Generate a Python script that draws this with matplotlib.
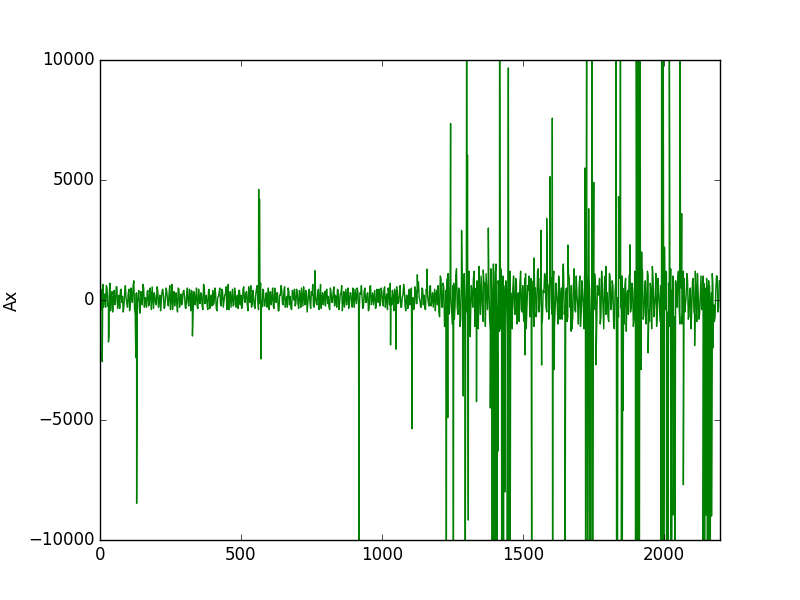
import numpy as np
import matplotlib
matplotlib.use('Agg')
import matplotlib.pyplot as plt

plt.style.use('classic')

# background noise: one reading every 5 samples,
# plus a second set half way between them
step = 5
noise = [
    300, -400, 650, 100, -300, 500, -200, 700, 200, -500, 400, -100, 550, 0, -350, 450, 150, -250, 600, -150,
    250, -450, 500, -100, 800, -600, 300, 50, -400, 350, -200, 500, 100, -300, 400, -150, 250, 550, -350, 150,
    -200, 400, 0, -450, 350, 200, -300, 500, -100, 250, -400, 650, 100, -250, 300, -500, 450, 0, -200, 350,
    150, -350, 500, -250, 200, 400, -600, 300, 50, -300, 450, -150, 250, -400, 550, 0, -200, 350, -350, 200,
    400, -100, 300, -450, 150, 500, -250, 350, -50, 250, -400, 650, 100, -300, 450, -200, 300, 0, -350, 400,
    200, -300, 550, -100, 350, -450, 250, 600, -200, 100, -350, 450, 0, -150, 700, -300, 400, -250, 300, 150,
    -400, 350, 100, -250, 500, -100, 300, -450, 200, 400, -200, 550, -50, -300, 350, 150, -400, 250, 450, -150,
    300, -350, 200, 500, -250, 100, 400, -500, 250, -100, 350, 650, -300, 150, -200, 450, 0, -350, 300, 100,
    -250, 450, 150, -400, 300, -100, 550, 200, -300, 400, -150, 250, -450, 350, 100, -200, 500, -50, 300, -300,
    200, 450, -150, 350, -400, 250, 100, -250, 500, -100, 300, -350, 600, 50, -200, 400, -300, 200, 450, -100,
    350, -250, 550, 0, -400, 300, 700, -200, 150, 450, -350, 250, -100, 600, -300, 200, 400, -450, 150, 300,
    -200, 500, 100, -350, 400, -150, 750, 0, -300, 450, 200, -400, 350, -100, 550, -250, 300, 100, -450, 400,
    600, -700, 900, -300, 500, -900, 300, 1100, -500, 200, -1000, 700, -200, 1300, -600, 400, -800, 1000, 100, -1200,
    800, -400, 1200, -700, 300, 900, -1100, 500, -300, 1400, -600, 200, -900, 700, 1100, -400, 600, -1300, 300, 900,
    -800, 1500, -300, 600, -1200, 400, 1000, -500, 800, -1400, 200, 1200, -700, 500, -200, 900, -1000, 300, 700, -400,
    600, -900, 1100, -300, 400, -700, 900, 200, -1100, 500, -400, 1300, -200, 700, -800, 300, 1000, -500, 600, -300,
    900, -600, 1200, -400, 300, -1000, 700, 100, -800, 1100, -300, 500, -700, 900, 200, -1200, 600, -400, 1000, -200,
    500, -1100, 800, -300, 1400, -700, 200, 900, -1300, 400, -500, 1100, -800, 600, 300, -1000, 1200, -400, 700, -600,
    300, -900, 1000, -200, 600, -1200, 800, 100, -700, 1300, -400, 500, -1000, 900, 200, -600, 1100, -300, 400, -800,
    1000, -500, 700, -1300, 300, 1200, -600, 800, -200, 1000, -900, 400, 1400, -700, 200, -1100, 900, -300, 600, -1000,
    800, -400, 1100, -800, 300, 1300, -600, 700, -1200, 400, 900, -300, 600, -1000, 1200, -500, 200, 800, -700, 500,
    -300, 900, -600, 400, 1100, -800, 200, -400, 1000, -700, 500, -200, 800, -1100, 300, 600, -900, 400, 1000, -300,
]
noise_b = [
    -100, 450, -300, 250, 600, -250, 150, -450, 350, 50, -200, 550, -350, 200, 400, -100, -500, 300, 100, -300,
    450, -200, 150, 600, -350, 250, -100, 400, -550, 200, 650, -300, 0, 350, -250, 500, -400, 100, 300, -150,
    550, -300, 200, -100, 450, -350, 150, 300, -250, 600, 0, -400, 350, 150, -200, 500, -300, 250, -50, 400,
    -300, 200, -100, 450, -450, 150, 350, -200, 500, -350, 0, 300, -250, 650, -150, 200, -400, 450, 100, -250,
    -200, 500, -350, 100, 300, -150, 450, -300, 200, 550, -100, -400, 350, 100, -250, 500, -300, 200, 400, -200,
    -350, 450, 0, 300, -200, 550, -100, -300, 400, -250, 200, 600, -400, 300, -50, 450, -250, 100, -300, 500,
    250, -200, 500, -350, 150, 300, -450, 200, 600, -150, 350, -300, 150, 500, -200, -350, 400, 0, -250, 450,
    -150, 400, -300, 150, 550, -200, 300, -100, 450, -350, 200, -250, 500, -150, 300, -400, 650, 100, -200, 350,
    400, -150, -300, 500, -100, 350, -250, 150, 450, -400, 250, 600, -100, -300, 450, 200, -350, 300, -150, 500,
    -300, 150, 500, -200, 300, 600, -350, 400, -100, 250, -450, 550, -200, 300, 100, -350, 450, -100, -250, 500,
    -100, 450, -300, 250, 500, -200, 100, 400, -450, 300, 550, -150, 350, -300, 100, 650, -250, 200, -350, 450,
    300, -250, -400, 550, -150, 350, 100, -300, 500, -200, -350, 450, 150, -250, 600, 0, -300, 450, 250, -200,
    -500, 1000, -300, 700, -1100, 400, 900, -600, 1200, -400, 600, -800, 1000, -300, 500, -1100, 800, -200, 1100, -700,
    -500, 1000, -900, 600, -300, 1200, -700, 800, -1200, 300, 1000, -500, 700, -1100, 400, 900, -800, 1300, -400, 500,
    1100, -600, 800, -1300, 1300, -300, 600, -1000, 400, 1100, -800, 300, -1200, 1000, -600, 700, 200, -900, 1200, -500,
    -600, 900, -1200, 600, 1000, -400, -900, 800, 300, -700, 1200, -500, 900, -1000, 400, 1100, -300, 700, -800, 1000,
    -400, 800, -1100, 700, -200, 1000, -800, 500, 1200, -600, 300, -900, 1100, -300, 600, -700, 1300, -500, 200, -1000,
    1000, -500, 300, -1200, 700, 1100, -900, 400, -600, 1300, -400, 800, -1000, 200, 900, -700, 500, -1200, 1000, -300,
    -700, 1100, -400, 800, -1000, 300, 1200, -600, 900, -300, 1000, -800, 600, -1300, 400, 1000, -500, 700, -1100, 1200,
    -600, 900, -1100, 500, 1300, -800, 300, -1000, 1200, -400, 700, -1200, 900, -300, 1100, -600, 400, -900, 1300, -200,
    -900, 1200, -500, 700, -1100, 400, 1000, -700, 800, -300, 1200, -1000, 500, -600, 900, -200, 1100, -800, 400, -1200,
    800, -500, 1200, -900, 300, -600, 1000, -300, 700, -1100, 900, -400, 600, -800, 1100, -200, -700, 1000, -500, 800,
]

# the big spikes (sample, value); ones past the axis limits are clipped
spike_x = [8, 30, 32, 127, 130, 328, 563, 566, 571, 763, 919, 1031, 1050, 1107, 1126, 1160,
           1229, 1234, 1244, 1254, 1283, 1289, 1296, 1301, 1304, 1307, 1314, 1336, 1360, 1378,
           1385, 1392, 1394, 1396, 1399, 1402, 1408, 1412, 1418, 1425, 1428, 1432, 1437, 1445,
           1449, 1452, 1455, 1508, 1532, 1540,
           1565, 1567, 1585, 1597, 1605, 1606, 1612, 1644, 1650, 1660, 1672,
           1721, 1723, 1727, 1730, 1734, 1738, 1741, 1745, 1748, 1752, 1760, 1795, 1830, 1833,
           1836, 1840, 1847, 1850, 1853, 1856, 1880, 1900, 1903, 1906, 1908, 1910, 1912, 1914,
           1917, 1920, 1922, 1945,
           1990, 1993, 1996, 1998, 2000, 2003, 2010, 2015, 2020, 2025, 2028, 2035, 2040, 2058,
           2064, 2070, 2110, 2140, 2145, 2150, 2155, 2160, 2165, 2170, 2175]
spike_y = [-2570, -1750, -1500, -2400, -8470, -1500, 4610, 4200, -2460, 1220, -14000, -1875, -2050, -5360, 1050, 1290,
           -14000, -4900, 7360, -14000, 2900, -4000, -14000, 15000, 6040, -9170, -1530, -4240, 1250, 3000,
           -4500, -14000, -14000, 1500, -9000, -14000, -14000, -6300, 15000, -14000, -14000, -14000, -8000, -14000,
           9670, -14000, -14000, -2290, -14000, 1750,
           2900, -2710, 3400, 5140, 7580, -14000, -2900, 1500, -14000, 2290, -1300,
           5500, -14000, 15000, -14000, 3800, -14000, -14000, 15000, -14000, 4900, -2700, 1400, 15000, -14000,
           -14000, 4300, 15000, -14000, -14000, -4600, 2300, -14000, 15000, -14000, 15000, 15000, -14000, -14000,
           15000, -2900, 2000, -2200,
           -14000, 15000, -14000, 15000, -14000, 2200, -14000, -14000, 15000, -14000, -14000, -8960, -14000, 15000,
           3600, -7700, -1900, -14000, -14000, -8960, -14000, -14000, -14000, -9000, -2000]

x = np.concatenate([np.arange(len(noise)) * step,
                    np.arange(len(noise_b)) * step + step / 2,
                    spike_x])
y = np.concatenate([noise, noise_b, spike_y])
order = np.argsort(x, kind='stable')
x = x[order]
y = y[order]

fig = plt.figure(figsize=(8, 6), dpi=100)
ax = fig.add_subplot(111)
ax.plot(x, y, color='g', linewidth=1)
ax.set_xlim(0, 2200)
ax.set_ylim(-10000, 10000)
ax.set_xticks([0, 500, 1000, 1500, 2000])
ax.set_yticks([-10000, -5000, 0, 5000, 10000])
ax.set_ylabel('Ax')
fig.subplots_adjust(left=0.125, right=0.9, bottom=0.1, top=0.9)
fig.savefig('out.png', dpi=100, facecolor='white')
